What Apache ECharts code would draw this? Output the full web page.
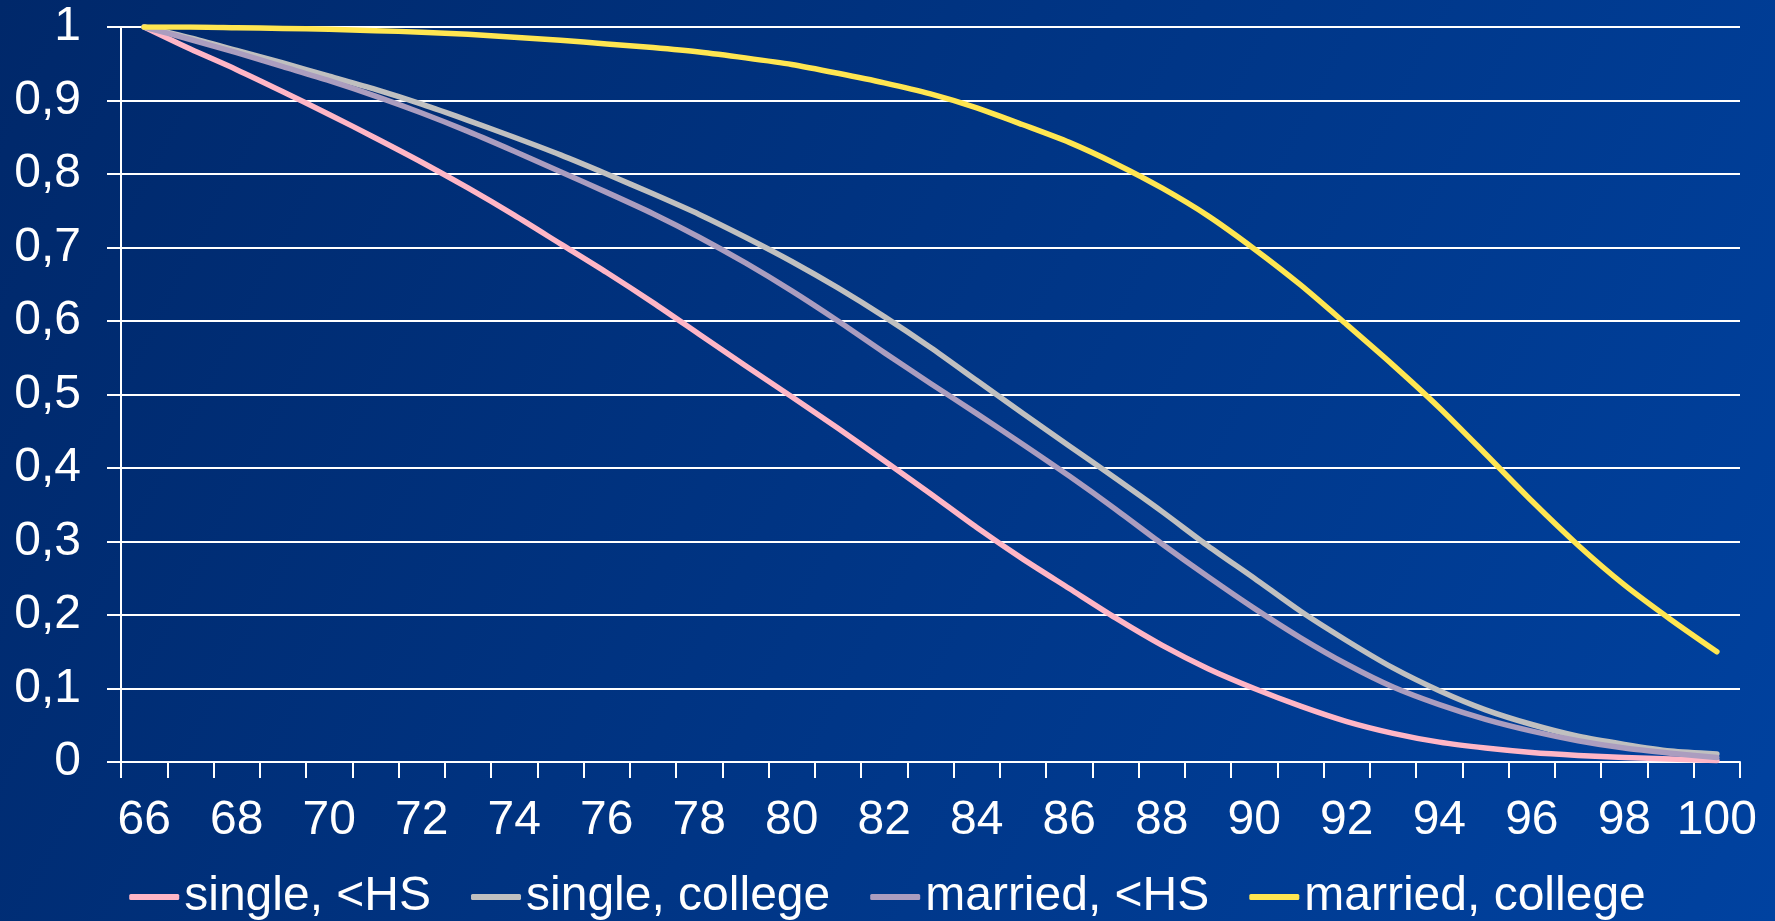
<!DOCTYPE html>
<html>
<head>
<meta charset="utf-8">
<title>Survival curves by age</title>
<script src="https://cdn.jsdelivr.net/npm/echarts@6/dist/echarts.min.js"></script>
<style>
  html, body { margin: 0; padding: 0; width: 100%; height: 100%; overflow: hidden; }
  #chart { width: 1775px; height: 921px; }
</style>
</head>
<body>
<div id="chart"></div>
<script>
// Ages on the horizontal axis (one category per year)
const ages = [66, 67, 68, 69, 70, 71, 72, 73, 74, 75, 76, 77, 78, 79, 80, 81, 82, 83,
  84, 85, 86, 87, 88, 89, 90, 91, 92, 93, 94, 95, 96, 97, 98, 99, 100];

// Survival probability for each group
const singleHS = [1.000, 0.970, 0.942, 0.912, 0.881, 0.849, 0.816, 0.781, 0.744, 0.705,
  0.666, 0.625, 0.582, 0.539, 0.497, 0.454, 0.410, 0.365, 0.319, 0.276, 0.236, 0.196,
  0.159, 0.127, 0.100, 0.076, 0.055, 0.039, 0.027, 0.019, 0.013, 0.009, 0.006, 0.004, 0.002];

const singleCollege = [1.000, 0.985, 0.968, 0.951, 0.933, 0.915, 0.895, 0.873, 0.850, 0.826,
  0.800, 0.773, 0.745, 0.714, 0.681, 0.645, 0.606, 0.564, 0.519, 0.474, 0.430, 0.386,
  0.341, 0.294, 0.250, 0.205, 0.165, 0.128, 0.097, 0.071, 0.051, 0.035, 0.024, 0.015, 0.011];

const marriedHS = [1.000, 0.983, 0.965, 0.946, 0.927, 0.906, 0.883, 0.858, 0.831, 0.803,
  0.775, 0.746, 0.714, 0.679, 0.641, 0.600, 0.557, 0.515, 0.474, 0.432, 0.389, 0.344,
  0.297, 0.252, 0.209, 0.169, 0.133, 0.102, 0.078, 0.058, 0.042, 0.029, 0.019, 0.012, 0.006];

const marriedCollege = [1.000, 1.000, 0.999, 0.998, 0.997, 0.995, 0.993, 0.990, 0.986, 0.982,
  0.977, 0.972, 0.966, 0.958, 0.949, 0.937, 0.924, 0.909, 0.890, 0.867, 0.843, 0.814,
  0.781, 0.743, 0.698, 0.649, 0.595, 0.540, 0.482, 0.419, 0.355, 0.295, 0.241, 0.194, 0.150];

const seriesNames = ['single, <HS', 'single, college', 'married, <HS', 'married, college'];
const seriesColors = ['#ffb6c6', '#c0c0c0', '#ab9dbf', '#ffe651'];
const seriesData = [singleHS, singleCollege, marriedHS, marriedCollege];

const FONT = '"Liberation Sans", Arial, sans-serif';
const chart = echarts.init(document.getElementById('chart'));

chart.setOption({
  backgroundColor: {
    type: 'linear', x: 0, y: 0, x2: 1, y2: 1,
    colorStops: [
      { offset: 0, color: '#00286a' },
      { offset: 1, color: '#0042a0' }
    ]
  },
  animation: false,
  grid: { left: 121, right: 35, top: 27, bottom: 159, containLabel: false },
  legend: {
    bottom: -5,
    left: 'center',
    icon: 'roundRect',
    itemWidth: 50,
    itemHeight: 6,
    itemGap: 40,
    textStyle: { color: '#ffffff', fontSize: 48, fontFamily: FONT },
    data: seriesNames
  },
  xAxis: {
    type: 'category',
    data: ages,
    boundaryGap: true,
    axisLine: { show: true, lineStyle: { color: '#ffffff', width: 2 } },
    axisTick: { show: true, interval: 0, length: 16, lineStyle: { color: '#ffffff', width: 2 } },
    axisLabel: {
      interval: 1,
      color: '#ffffff',
      fontSize: 48,
      fontFamily: FONT,
      margin: 35
    },
    splitLine: { show: false }
  },
  yAxis: {
    type: 'value',
    min: 0,
    max: 1,
    interval: 0.1,
    axisLine: { show: true, lineStyle: { color: '#ffffff', width: 2 } },
    axisTick: { show: true, length: 14, lineStyle: { color: '#ffffff', width: 2 } },
    axisLabel: {
      color: '#ffffff',
      fontSize: 48,
      fontFamily: FONT,
      margin: 40,
      formatter: v => String(Math.round(v * 10) / 10).replace('.', ',')
    },
    splitLine: { show: true, lineStyle: { color: '#ffffff', width: 2 } }
  },
  series: seriesNames.map((name, i) => ({
    name: name,
    type: 'line',
    data: seriesData[i],
    showSymbol: false,
    symbol: 'none',
    smooth: 0.25,
    color: seriesColors[i],
    lineStyle: { color: seriesColors[i], width: 5.5, cap: 'round', join: 'round' }
  }))
});
</script>
</body>
</html>
